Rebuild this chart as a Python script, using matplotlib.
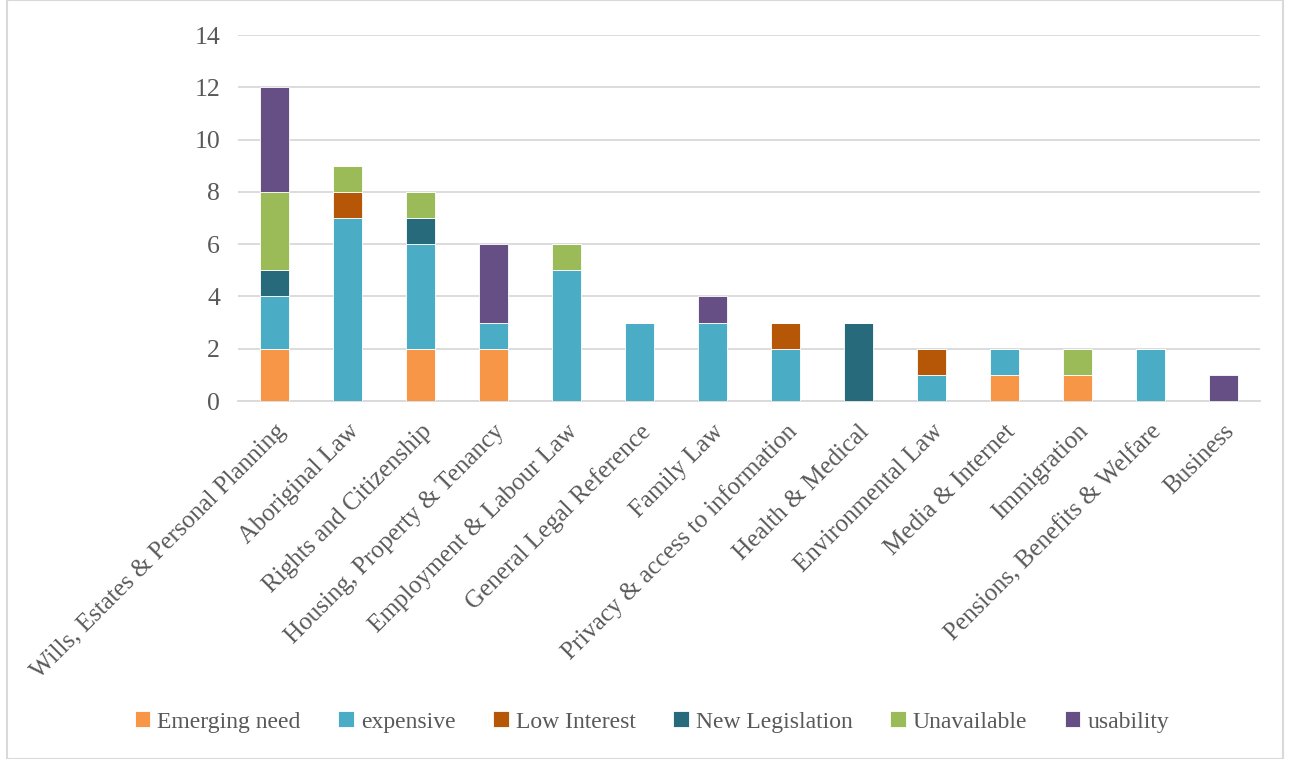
import matplotlib
matplotlib.use("Agg")
import matplotlib.pyplot as plt
import numpy as np
from matplotlib.patches import Rectangle

categories = [
    "Wills, Estates & Personal Planning", "Aboriginal Law", "Rights and Citizenship",
    "Housing, Property & Tenancy", "Employment & Labour Law", "General Legal Reference",
    "Family Law", "Privacy & access to information", "Health & Medical",
    "Environmental Law", "Media & Internet", "Immigration",
    "Pensions, Benefits & Welfare", "Business",
]
emerging_need   = [2, 0, 2, 2, 0, 0, 0, 0, 0, 0, 1, 1, 0, 0]
expensive       = [2, 7, 4, 1, 5, 3, 3, 2, 0, 1, 1, 0, 2, 0]
low_interest    = [0, 1, 0, 0, 0, 0, 0, 1, 0, 1, 0, 0, 0, 0]
new_legislation = [1, 0, 1, 0, 0, 0, 0, 0, 3, 0, 0, 0, 0, 0]
unavailable     = [3, 1, 1, 0, 1, 0, 0, 0, 0, 0, 0, 1, 0, 0]
usability       = [4, 0, 0, 3, 0, 0, 1, 0, 0, 0, 0, 0, 0, 1]

series = [
    ("Emerging need", emerging_need, "#F79646"),
    ("expensive", expensive, "#4BACC6"),
    ("Low Interest", low_interest, "#B65708"),
    ("New Legislation", new_legislation, "#276A7C"),
    ("Unavailable", unavailable, "#9BBB59"),
    ("usability", usability, "#664F85"),
]

plt.rcParams["font.family"] = ["Liberation Serif", "DejaVu Serif"]
text_color = "#595959"

fig = plt.figure(figsize=(12.89, 7.59), dpi=100)
ax = fig.add_axes([238 / 1289, 1 - 401 / 759, (1260 - 238) / 1289, (401 - 35) / 759])

x = np.arange(len(categories))
bottom = np.zeros(len(categories))
handles = []
for name, vals, color in series:
    vals = np.array(vals, dtype=float)
    b = ax.bar(x, vals, bottom=bottom, width=0.4, color=color,
               edgecolor="white", linewidth=0.6, label=name, zorder=3)
    bottom += vals
    handles.append(b)

ax.set_xlim(-0.5, len(categories) - 0.5)
ax.set_ylim(0, 14)
ax.set_yticks(range(0, 15, 2))
ax.yaxis.grid(True, color="#D9D9D9", linewidth=1.3, zorder=0)
for s in ["top", "right", "left"]:
    ax.spines[s].set_visible(False)
ax.spines["bottom"].set_color("#D9D9D9")
ax.spines["bottom"].set_linewidth(1.3)
ax.tick_params(axis="x", length=0, colors=text_color, pad=14)
ax.tick_params(axis="y", length=0, labelsize=18.5, colors=text_color, pad=13)
ax.set_xticks(x)
ax.set_xticklabels(categories, rotation=45, ha="right", rotation_mode="anchor",
                   fontsize=18, color=text_color)

leg = fig.legend(handles=handles, loc="center", bbox_to_anchor=(652 / 1289, 1 - 722 / 759),
                 ncol=6, frameon=False, fontsize=17, handlelength=0.65, handleheight=0.65,
                 handletextpad=0.3, columnspacing=1.6)
for t in leg.get_texts():
    t.set_color(text_color)

fig.patches.append(Rectangle((7 / 1289, 0.0), 1276 / 1289, 1.0, transform=fig.transFigure,
                             fill=False, edgecolor="#D9D9D9", linewidth=1.5))

fig.savefig("out.png", dpi=100, facecolor="white")
